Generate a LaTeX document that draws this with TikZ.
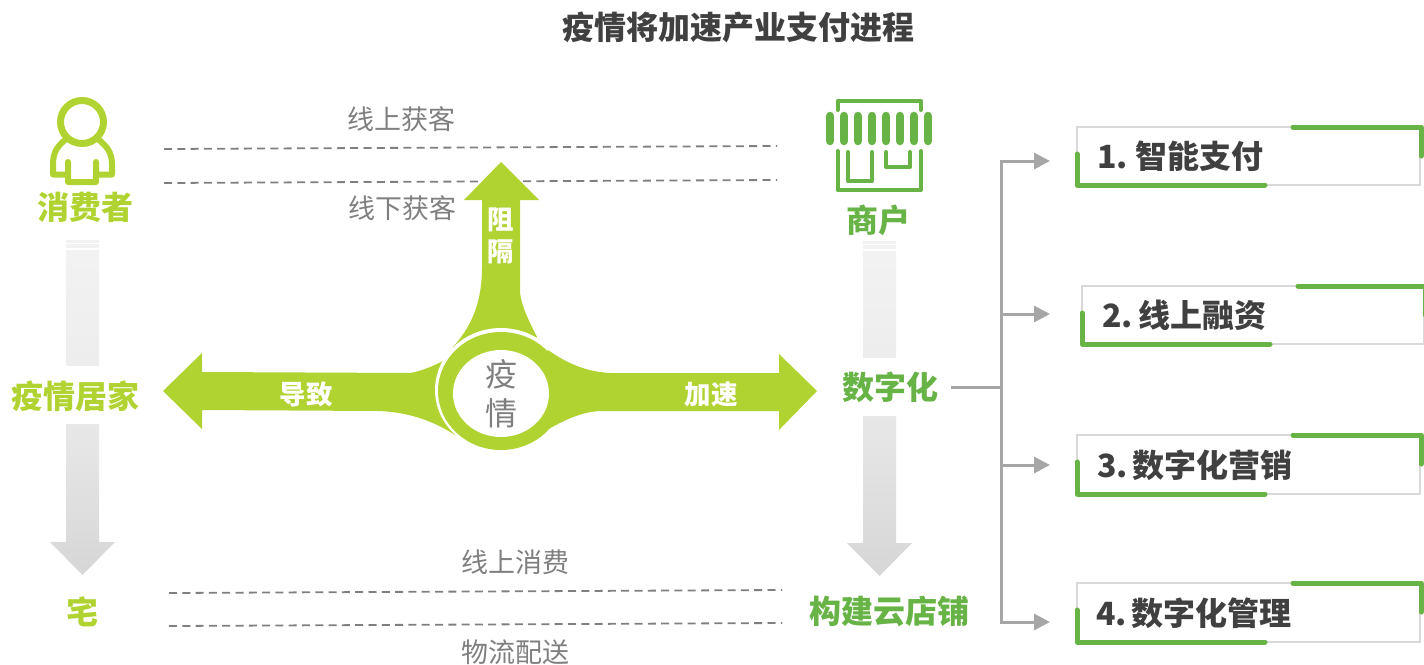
\documentclass[tikz,border=0pt]{standalone}
\usepackage{fontspec}
\setmainfont{Noto Sans CJK SC}
\definecolor{lime}{HTML}{B1D332}
\definecolor{leaf}{HTML}{67B346}
\definecolor{inkd}{HTML}{404040}
\definecolor{inkg}{HTML}{7F7F7F}
\definecolor{rule}{HTML}{D9D9D9}
\definecolor{conn}{HTML}{A6A6A6}
\usetikzlibrary{arrows.meta}
\tikzset{
 px/.style={font=\fontsize{#1}{#1}\selectfont},
 lab/.style={text=inkg,px=27},
 hl/.style={text=lime,font=\fontsize{32}{32}\selectfont\bfseries},
 hg/.style={text=leaf,font=\fontsize{32}{32}\selectfont\bfseries},
 wht/.style={text=white,font=\fontsize{26.5}{32}\selectfont\bfseries},
 item/.style={text=inkd,font=\fontsize{32}{32}\selectfont\bfseries,anchor=west,inner sep=0pt},
 dashl/.style={draw=inkg,line width=1.8pt,dash pattern=on 8pt off 5.3pt},
 frameb/.style={draw=rule,line width=2pt},
 accent/.style={draw=leaf,line width=5pt,line cap=round,line join=round},
 conl/.style={draw=conn,line width=3pt},
 conar/.style={conl,-{Triangle[length=16pt,width=16pt,fill=conn]}},
 icong/.style={draw=leaf,line width=4pt,line cap=round,line join=round},
 stripe/.style={draw=leaf,line width=8.5pt,line cap=round},
}
\begin{document}
\begin{tikzpicture}[x=1pt,y=-1pt]
\useasboundingbox (0,0) rectangle (1424,664);
% title
\node[text=inkd,font=\fontsize{32}{32}\selectfont\bfseries] (title) at (738,27) {疫情将加速产业支付进程};
% dashed lines
\coordinate (d1a) at (164,149);\coordinate (d1b) at (777,146);
\coordinate (d2a) at (164,183);\coordinate (d2b) at (777,180);
\coordinate (d3a) at (169,593);\coordinate (d3b) at (782,590);
\coordinate (d4a) at (169,626);\coordinate (d4b) at (782,623);
\draw[dashl] (d1a)--(d1b);\draw[dashl] (d2a)--(d2b);\draw[dashl] (d3a)--(d3b);\draw[dashl] (d4a)--(d4b);
\node[lab] (t1) at (401,119) {线上获客};
\node[lab] (t2) at (402,208) {线下获客};
\node[lab] (t3) at (515,562) {线上消费};
\node[lab] (t4) at (515,652) {物流配送};
% person icon
\draw[lime,line width=7pt] (82,122) circle (21.5);
\draw[lime,line width=6pt,line join=round,line cap=round] (66,139) .. controls (58,146) and (53,151) .. (53,165) -- (53,174.5) -- (68,174.5) (68,162) -- (68,182) -- (96,182) -- (96,162) (96,174.5) -- (112,174.5) -- (112,165) .. controls (112,151) and (106,146) .. (98,139);
\node[hl] (cons) at (85,207) {消费者};
% shop icon
\draw[icong] (837.5,110) -- (837.5,101) -- (921,101) -- (921,110);
\foreach \x in {830,844,858,872,886,900,914,928}{\draw[stripe] (\x,116) -- (\x,141);}
\draw[icong] (837.5,151) -- (837.5,190) -- (921,190) -- (921,151);
\draw[icong] (848,152) -- (848,181) -- (872,181) -- (872,152);
\draw[icong] (886,152) -- (886,167) -- (910,167) -- (910,152);
\node[hg] (shop) at (878,220) {商户};
% left fade column
\shade[top color=black!5,bottom color=black!7] (66,250) rectangle (99,365);
\fill[black!5] (66,240) rectangle (99,242.5);
\fill[black!5] (66,244) rectangle (99,248);
\shade[top color=black!9,bottom color=black!16] (66,424) -- (99,424) -- (99,542) -- (115,542) -- (82.5,575) -- (50,542) -- (66,542) -- cycle;
% right fade column
\fill[black!5] (863,241) rectangle (896,243.5);
\fill[black!5] (863,245) rectangle (896,249);
\shade[top color=black!5,bottom color=black!7] (863,251) rectangle (896,357);
\shade[top color=black!9,bottom color=black!16] (863,416) -- (896,416) -- (896,543) -- (912,543) -- (879.5,576) -- (847,543) -- (863,543) -- cycle;
\node[hl] (home) at (76,396) {疫情居家};
\node[hl] (zhai) at (82,612) {宅};
\node[hg] (digi) at (890,387) {数字化};
\node[hg] (cloud) at (889,611) {构建云店铺};
% central arrows
\fill[lime] (501,162) -- (539,200) -- (520,200) -- (520,293) .. controls (522,308) and (530,323) .. (537,337) -- (501,390) -- (453,347) .. controls (470,328) and (482,305) .. (482,267) -- (482,200) -- (464,200) -- cycle;
\fill[lime] (163,391) -- (202,353) -- (202,372) -- (410,373) .. controls (422,371) and (433,366) .. (443,361) -- (501,390) -- (455,435) .. controls (435,422) and (410,412) .. (378,411) -- (202,410) -- (202,429) -- cycle;
\fill[white] (501,390) ellipse[x radius=66,y radius=62];
\fill[lime] (501,391) ellipse[x radius=63,y radius=59];
\fill[lime] (817,391) -- (779,354) -- (779,373) -- (611,373) .. controls (585,372) and (565,362) .. (548,350) -- (520,391) -- (545,431) .. controls (563,421) and (580,412) .. (600,411) -- (779,411) -- (779,430) -- cycle;
\fill[white] (501,393.5) ellipse[x radius=48,y radius=43.5];
\node[text=inkg,font=\fontsize{32}{39}\selectfont,align=center,inner sep=0pt] (yq) at (501,394) {疫\\情};
% arrow labels
\node[wht,align=center,inner sep=0pt] (zg) at (501,236) {阻\\隔};
\node[wht] (dz) at (306,394) {导致};
\node[wht] (js) at (711,394) {加速};
% boxes
\newcommand{\itembox}[4]{%
 \draw[frameb] (#1,#2) rectangle (#3,#4);
 \draw[accent] (#1,#2+27) -- (#1,#4) -- (#1+188,#4);
 \draw[accent] (#1+216,#2) -- (#3+1,#2) -- (#3+1,#2+29);
}
\itembox{1077}{127}{1420}{185}
\itembox{1082}{286}{1424}{344}
\itembox{1077}{435}{1420}{494}
\itembox{1077}{583}{1420}{642}
\node[item] (b1) at (1097,156) {1.\hspace{8pt}智能支付};
\node[item] (b2) at (1102,315) {2.\hspace{5.5pt}线上融资};
\node[item] (b3) at (1097,465) {3.\hspace{5pt}数字化营销};
\node[item] (b4) at (1096,613) {4.\hspace{5pt}数字化管理};
% connectors
\coordinate (ar1) at (1050,161);\coordinate (ar2) at (1050,314);\coordinate (ar3) at (1050,465);\coordinate (ar4) at (1050,622);
\coordinate (jn) at (1001,387);
\draw[conl] ([xshift=9pt]digi.east) -- (jn);
\draw[conar] (jn) |- (ar1);
\draw[conar] (jn) |- (ar2);
\draw[conar] (jn) |- (ar3);
\draw[conar] (jn) |- (ar4);
\end{tikzpicture}
\end{document}
